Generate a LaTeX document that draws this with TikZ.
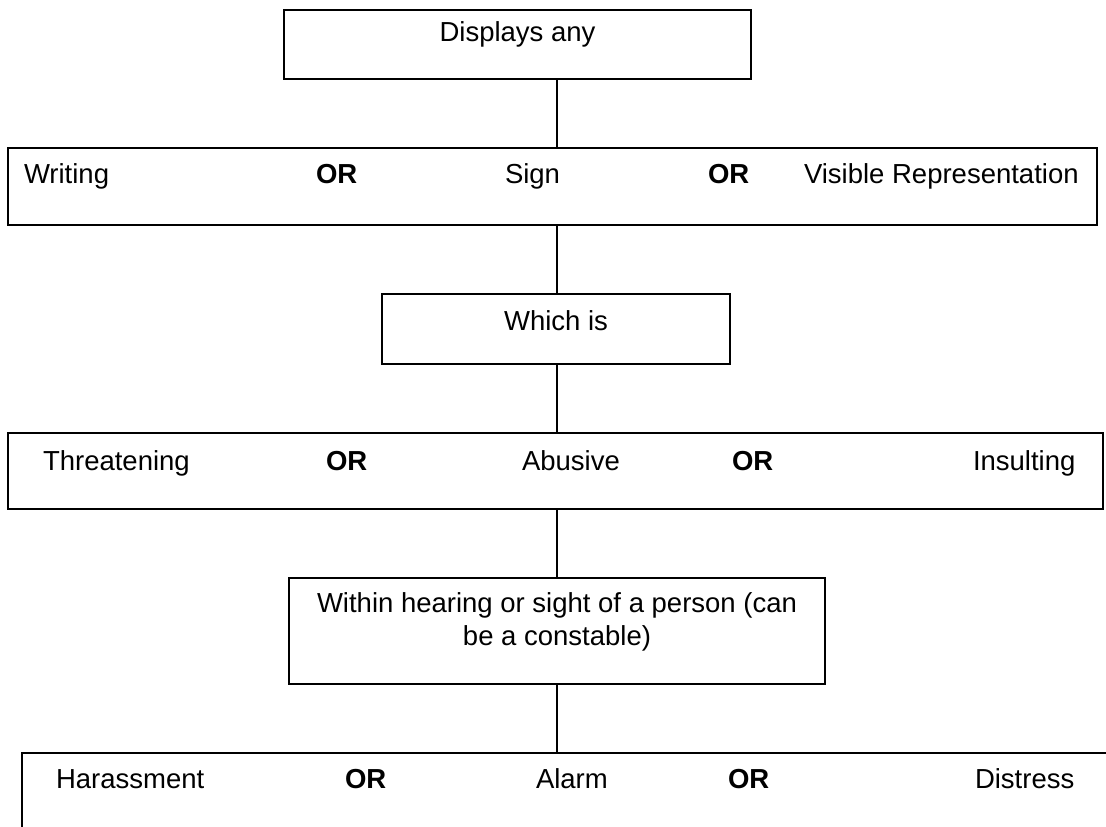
\documentclass[tikz,border=0pt]{standalone}
\usepackage{fontspec}
\setmainfont{Liberation Sans}
\begin{document}
\begin{tikzpicture}[x=1pt,y=-1pt,
  box/.style={draw=black, line width=1.6pt, inner sep=0pt, outer sep=0pt, rectangle},
  lbl/.style={inner sep=0pt, outer sep=0pt, font=\fontsize{27.5}{33}\selectfont},
  orl/.style={lbl, font=\fontsize{27.5}{33}\selectfont\bfseries},
  conn/.style={draw=black, line width=1.6pt}]
\clip (0,0) rectangle (1106,827);
% boxes
\node[box, minimum width=467pt, minimum height=69pt] (b1) at (517.5,44.5) {};
\node[box, minimum width=1089pt, minimum height=77pt] (b2) at (552.5,186.5) {};
\node[box, minimum width=348pt, minimum height=70pt] (b3) at (556,329) {};
\node[box, minimum width=1095pt, minimum height=76pt] (b4) at (555.5,471) {};
\node[box, minimum width=536pt, minimum height=106pt] (b5) at (557,631) {};
\node[box, minimum width=1120pt, minimum height=100pt] (b6) at (582,803) {};
\coordinate (cx) at (557,0);
% connectors
\draw[conn] (cx |- b1.south) -- (cx |- b2.north);
\draw[conn] (cx |- b2.south) -- (cx |- b3.north);
\draw[conn] (cx |- b3.south) -- (cx |- b4.north);
\draw[conn] (cx |- b4.south) -- (cx |- b5.north);
\draw[conn] (cx |- b5.south) -- (cx |- b6.north);
% texts
\node[lbl, anchor=base] (t1) at (517.5,41) {Displays any};
\node[lbl, anchor=base west] (t2a) at (24,183) {Writing};
\node[orl, anchor=base west] (t2b) at (316,183) {OR};
\node[lbl, anchor=base west] (t2c) at (505,183) {Sign};
\node[orl, anchor=base west] (t2d) at (708,183) {OR};
\node[lbl, anchor=base west] (t2e) at (804,183) {Visible Representation};
\node[lbl, anchor=base] (t3) at (556,330) {Which is};
\node[lbl, anchor=base west] (t4a) at (43,470) {Threatening};
\node[orl, anchor=base west] (t4b) at (326,470) {OR};
\node[lbl, anchor=base west] (t4c) at (522,470) {Abusive};
\node[orl, anchor=base west] (t4d) at (732,470) {OR};
\node[lbl, anchor=base west] (t4e) at (973,470) {Insulting};
\node[lbl, anchor=base] (t5a) at (557,612) {Within hearing or sight of a person (can};
\node[lbl, anchor=base] (t5b) at (557,645) {be a constable)};
\node[lbl, anchor=base west] (t6a) at (56,788) {Harassment};
\node[orl, anchor=base west] (t6b) at (345,788) {OR};
\node[lbl, anchor=base west] (t6c) at (536,788) {Alarm};
\node[orl, anchor=base west] (t6d) at (728,788) {OR};
\node[lbl, anchor=base west] (t6e) at (975,788) {Distress};
\end{tikzpicture}
\end{document}
